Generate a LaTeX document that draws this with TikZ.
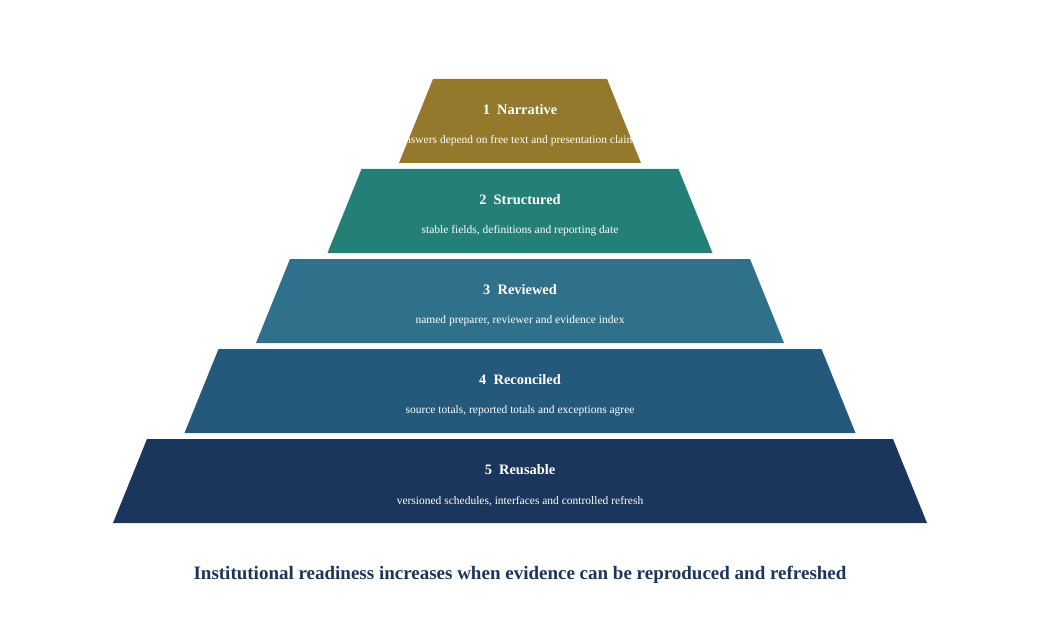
\documentclass[tikz,border=0pt]{standalone}
\usepackage{fontspec}
\setmainfont{Liberation Serif}
\usepackage{tikz}
\usetikzlibrary{positioning,calc}

\definecolor{tierone}{HTML}{94792C}
\definecolor{tiertwo}{HTML}{247F77}
\definecolor{tierthree}{HTML}{2F718A}
\definecolor{tierfour}{HTML}{24597B}
\definecolor{tierfive}{HTML}{1A365C}

\begin{document}
\begin{tikzpicture}[x=1pt,y=-1pt,
  tiername/.style={text=white,font=\bfseries\fontsize{14.4}{16}\selectfont},
  tiernote/.style={text=white,font=\fontsize{11.5}{13}\selectfont},
  caption/.style={text=tierfive,font=\bfseries\fontsize{19}{22}\selectfont}]
\useasboundingbox (0,0) rectangle (1040,620);
% the five tiers, top to bottom
\foreach \i/\col/\name/\note in {%
  1/tierone/Narrative/{answers depend on free text and presentation claims},
  2/tiertwo/Structured/{stable fields, definitions and reporting date},
  3/tierthree/Reviewed/{named preparer, reviewer and evidence index},
  4/tierfour/Reconciled/{source totals, reported totals and exceptions agree},
  5/tierfive/Reusable/{versioned schedules, interfaces and controlled refresh}}{
  \pgfmathsetmacro{\tiertop}{79+90*(\i-1)}
  \pgfmathsetmacro{\tierhalf}{87+71.5*(\i-1)}
  \fill[\col]
  (520-\tierhalf,\tiertop)
  -- ++(2*\tierhalf,0)
  -- ++(34,84)
  -- ++(-2*\tierhalf-68,0)
  -- cycle;
  \node[tiername] (name\i) at (520,\tiertop+31) {\i~~\name};
  \node[tiernote] (note\i) at (520,\tiertop+62) {\note};
}
\node[caption] (caption) at (520,575)
{Institutional readiness increases when evidence can be reproduced and refreshed};
\end{tikzpicture}
\end{document}
